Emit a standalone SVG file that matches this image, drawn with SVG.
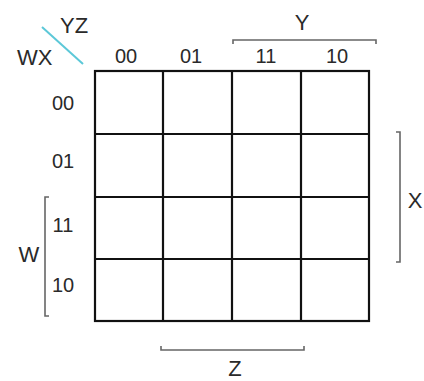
<svg xmlns="http://www.w3.org/2000/svg" width="424" height="381" viewBox="0 0 424 381">
<style>
text{font-family:"Liberation Sans",Arial,sans-serif;fill:#2a2a2a}
.d{font-size:20px;text-anchor:middle}
.l{font-size:22px}
.c{text-anchor:middle}
.grid{stroke:#111;stroke-width:2.2;fill:none}
.br{stroke:#666;stroke-width:1.6;fill:none}
</style>
<rect width="424" height="381" fill="#fff"/>
<g id="header">
<line x1="42" y1="27" x2="83" y2="64" stroke="#5cc8d8" stroke-width="2"/>
<text class="l" x="60" y="33">YZ</text>
<text class="l" x="17" y="65">WX</text>
</g>
<g id="grid">
<rect class="grid" x="95" y="71" width="274" height="250"/>
<path class="grid" d="M163,71V321M232,71V321M301,71V321M95,134H369M95,197H369M95,259H369"/>
</g>
<g id="col-labels">
<text class="d" x="126" y="63">00</text>
<text class="d" x="191" y="63">01</text>
<text class="d" x="266" y="63">11</text>
<text class="d" x="337" y="63">10</text>
</g>
<g id="row-labels">
<text class="d" x="63" y="110">00</text>
<text class="d" x="63" y="168">01</text>
<text class="d" x="63" y="232">11</text>
<text class="d" x="63" y="292">10</text>
</g>
<g id="connectors">
<path class="br" d="M233,44V40H376V44"/>
<path class="br" d="M49,197H45V316H49"/>
<path class="br" d="M396,132H400V262H396"/>
<path class="br" d="M161,346V350H304V346"/>
</g>
<g id="bracket-labels">
<text class="l c" x="302" y="30">Y</text>
<text class="l c" x="29" y="262">W</text>
<text class="l c" x="415" y="208">X</text>
<text class="l c" x="235" y="376">Z</text>
</g>
</svg>
